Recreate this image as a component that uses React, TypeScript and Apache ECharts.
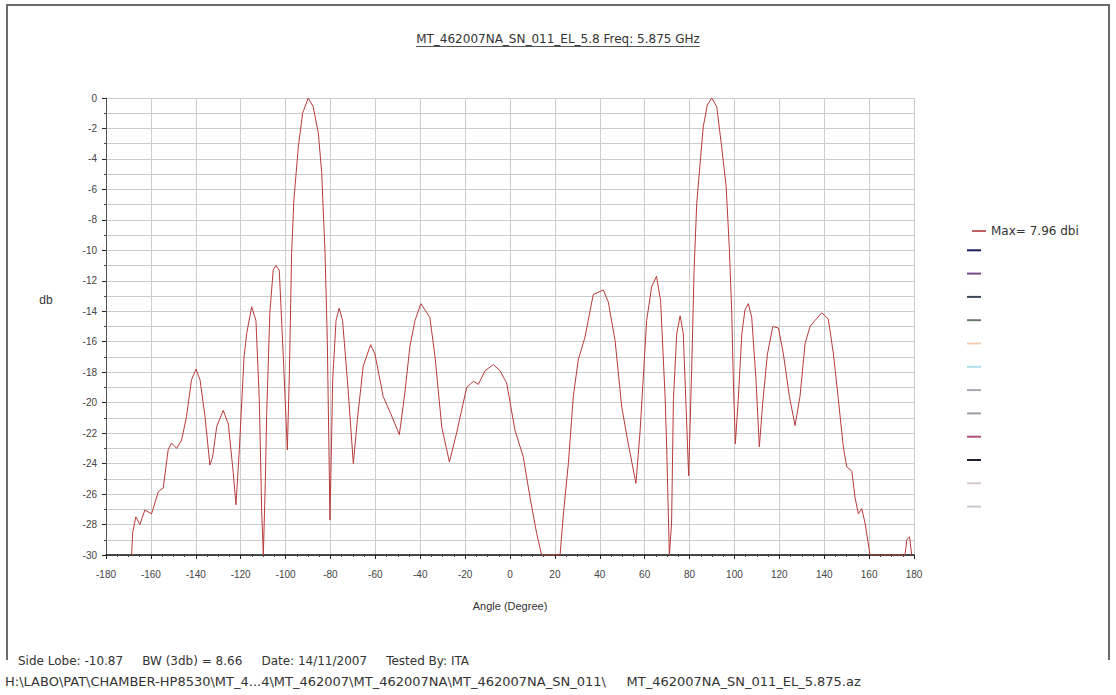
import React, { useEffect, useRef } from 'react';
import * as echarts from 'echarts';

const TITLE = 'MT_462007NA_SN_011_EL_5.8 Freq: 5.875 GHz';
const X_NAME = 'Angle (Degree)';
const Y_NAME = 'db';
const SERIES_NAME = 'Max= 7.96 dbi';
const INFO_LINE = 'Side Lobe: -10.87     BW (3db) = 8.66     Date: 14/11/2007     Tested By: ITA';
const PATH_LINE = 'H:\\LABO\\PAT\\CHAMBER-HP8530\\MT_4...4\\MT_462007\\MT_462007NA\\MT_462007NA_SN_011\\     MT_462007NA_SN_011_EL_5.875.az';

const angles = [
  -168.6, -168.1, -166.7, -164.9, -162.7, -159.7, -156.7, -154.5, -152.3, -150.8,
  -148.5, -146.3, -144.1, -141.9, -139.9, -138.1, -135.9, -133.7, -132.5, -130.7,
  -127.8, -125.5, -123.3, -122.1, -120.6, -118.5, -117.3, -115.1, -113.2, -111.7,
  -110.6, -109.9, -109.0, -108.4, -107.0, -105.5, -104.3, -102.8, -101.0, -99.2,
  -98.3, -97.3, -96.3, -94.3, -92.4, -89.9, -87.7, -85.4, -83.9, -82.4,
  -81.4, -80.2, -79.0, -77.5, -76.1, -74.6, -72.1, -69.8, -68.0, -65.4,
  -62.1, -60.2, -56.5, -53.2, -49.3, -46.8, -44.6, -42.3, -39.7, -35.7,
  -33.4, -30.4, -27.0, -23.8, -19.3, -16.3, -14.1, -11.1, -7.4, -4.5,
  -1.5, 2.2, 5.9, 8.9, 11.9, 14.1, 22.3, 23.8, 26.0, 28.2,
  30.4, 33.4, 37.1, 41.6, 43.8, 46.8, 49.8, 52.7, 56.1, 57.9,
  60.9, 63.1, 65.3, 67.1, 69.1, 69.8, 71.0, 72.0, 72.8, 74.3,
  75.8, 77.2, 78.5, 79.6, 81.0, 82.0, 83.2, 84.7, 86.1, 87.9,
  89.9, 92.1, 94.3, 96.3, 97.7, 98.8, 99.5, 100.4, 101.7, 103.3,
  104.7, 106.2, 107.7, 109.6, 111.1, 112.6, 114.7, 117.1, 119.6, 121.8,
  124.5, 127.0, 129.2, 131.5, 133.7, 135.9, 138.9, 141.8, 144.1, 146.3,
  148.5, 150.0, 152.3, 153.7, 155.2, 156.7, 158.2, 160.4, 176.0, 176.8,
  178.0, 179.0,
];

const gainDb = [
  -30, -28.5, -27.5, -28.0, -27.05, -27.3, -25.85, -25.6, -23.1, -22.65,
  -23.0, -22.45, -20.9, -18.5, -17.8, -18.5, -20.9, -24.1, -23.55, -21.6,
  -20.5, -21.4, -24.6, -26.7, -23.1, -17.0, -15.45, -13.7, -14.6, -19.8,
  -27.3, -30, -25.1, -20.7, -14.1, -11.3, -11.0, -11.3, -17.0, -23.1,
  -18.1, -10.2, -6.7, -3.2, -1.0, 0, -0.57, -2.3, -4.9, -10.2,
  -15.9, -27.7, -18.5, -14.6, -13.8, -14.6, -19.2, -24.0, -21.1, -17.6,
  -16.2, -16.8, -19.6, -20.7, -22.1, -19.3, -16.3, -14.6, -13.5, -14.4,
  -17.0, -21.6, -23.9, -22.0, -19.0, -18.6, -18.8, -17.9, -17.5, -17.9,
  -18.7, -21.8, -23.55, -26.2, -28.6, -30, -30, -27.3, -24.0, -19.6,
  -17.2, -15.7, -12.9, -12.6, -13.4, -15.9, -20.3, -22.7, -25.3, -22.0,
  -14.6, -12.4, -11.7, -13.3, -19.6, -22.9, -30, -27.9, -19.8, -15.45,
  -14.3, -15.45, -20.5, -24.8, -17.5, -11.4, -6.9, -4.3, -1.9, -0.46,
  0, -0.57, -3.2, -5.8, -9.8, -14.1, -18.5, -22.7, -19.8, -15.45,
  -13.9, -13.5, -14.4, -18.5, -22.9, -20.0, -16.8, -15.0, -15.1, -16.8,
  -19.6, -21.5, -19.6, -16.1, -15.0, -14.6, -14.1, -14.5, -16.8, -19.8,
  -22.9, -24.2, -24.5, -26.2, -27.3, -26.95, -27.9, -30, -30, -29.0,
  -28.8, -30,
];

const legendSwatchColors = [
  '#1c1c5c', '#7a4a8a', '#3c4858', '#6a7a6a', '#f0d0b0', '#b0e0f0',
  '#a8a8b0', '#9c9ca4', '#b0507a', '#202030', '#d8c8d0', '#c8c8d0',
];

const FONT = '"Liberation Sans", Arial, sans-serif';
const WIDE_FONT = '"DejaVu Sans", "Liberation Sans", sans-serif';

function measure(text: string, font: string): number {
  const c = document.createElement('canvas');
  const ctx = c.getContext('2d');
  if (!ctx) return text.length * 7;
  ctx.font = font;
  return ctx.measureText(text).width;
}

export default function App() {
  const ref = useRef<HTMLDivElement>(null);

  useEffect(() => {
    if (!ref.current) return;
    const chart = echarts.init(ref.current, null, { renderer: 'svg' });
    const W = 1116;
    const titleFont = `12px ${WIDE_FONT}`;
    const tw = measure(TITLE, titleFont);
    const titleCx = 558;

    const graphics: any[] = [
      {
        type: 'polyline',
        shape: { points: [[7, 660], [7, 5], [1109, 5], [1109, 660]] },
        style: { stroke: '#6a6a6a', lineWidth: 2, fill: 'none' },
        silent: true,
      },
      {
        type: 'text',
        x: titleCx,
        y: 39,
        style: {
          text: TITLE, fill: '#333', font: titleFont,
          textAlign: 'center', textVerticalAlign: 'middle',
        },
      },
      {
        type: 'line',
        shape: { x1: titleCx - tw / 2, y1: 46.5, x2: titleCx + tw / 2, y2: 46.5 },
        style: { stroke: '#555', lineWidth: 1 },
        silent: true,
      },
      {
        type: 'text',
        x: 46,
        y: 300,
        style: {
          text: Y_NAME, fill: '#333', font: `12px ${FONT}`,
          textAlign: 'center', textVerticalAlign: 'middle',
        },
      },
      {
        type: 'text',
        x: 18,
        y: 661,
        style: {
          text: INFO_LINE, fill: '#333', font: `12px ${WIDE_FONT}`,
          textAlign: 'left', textVerticalAlign: 'middle',
        },
      },
      {
        type: 'text',
        x: 5,
        y: 681,
        style: {
          text: PATH_LINE, fill: '#333', font: `13px ${WIDE_FONT}`,
          textAlign: 'left', textVerticalAlign: 'middle',
        },
      },
    ];

    legendSwatchColors.forEach((c, i) => {
      const y = 227 + 23.3 * (i + 1);
      graphics.push({
        type: 'line',
        shape: { x1: 967, y1: y, x2: 981, y2: y },
        style: { stroke: c, lineWidth: 2 },
        silent: true,
      });
    });

    const gridColor = '#cccccc';

    chart.setOption({
      animation: false,
      backgroundColor: '#ffffff',
      textStyle: { fontFamily: FONT },
      grid: { left: 106, right: W - 914, top: 98, bottom: 140, containLabel: false },
      legend: {
        show: true,
        data: [SERIES_NAME],
        orient: 'vertical',
        left: 967,
        top: 220,
        icon: 'rect',
        itemWidth: 14,
        itemHeight: 2,
        itemGap: 10,
        textStyle: { fontSize: 12, color: '#333', fontFamily: WIDE_FONT },
      },
      xAxis: {
        type: 'value',
        min: -180,
        max: 180,
        interval: 20,
        name: X_NAME,
        nameLocation: 'middle',
        nameGap: 45,
        nameTextStyle: { fontSize: 11, color: '#333', fontFamily: FONT },
        axisLine: { show: true, onZero: false, lineStyle: { color: '#111', width: 1.5 } },
        axisTick: { show: true, length: 4, lineStyle: { color: '#222' } },
        minorTick: { show: true, splitNumber: 4, length: 2, lineStyle: { color: '#444' } },
        axisLabel: { fontSize: 10, color: '#444', margin: 14, fontFamily: FONT },
        splitLine: { show: true, lineStyle: { color: gridColor, width: 1 } },
      },
      yAxis: {
        type: 'value',
        min: -30,
        max: 0,
        interval: 2,
        axisLine: { show: true, onZero: false, lineStyle: { color: '#555', width: 1 } },
        axisTick: { show: true, length: 4, lineStyle: { color: '#222' } },
        minorTick: { show: true, splitNumber: 2, length: 2, lineStyle: { color: '#444' } },
        axisLabel: { fontSize: 10, color: '#444', margin: 9, fontFamily: FONT },
        splitLine: { show: true, lineStyle: { color: gridColor, width: 1 } },
        minorSplitLine: { show: true, lineStyle: { color: gridColor, width: 1 } },
      },
      graphic: graphics,
      series: [
        {
          name: SERIES_NAME,
          type: 'line',
          data: angles.map((a, i) => [a, gainDb[i]]),
          showSymbol: false,
          symbol: 'none',
          clip: true,
          lineStyle: { color: '#b83a3a', width: 1 },
          itemStyle: { color: '#c06060' },
        },
      ],
    });

    return () => chart.dispose();
  }, []);

  return (
    <div
      ref={ref}
      style={{ position: 'fixed', left: 0, top: 0, width: 1116, height: 695, background: '#fff' }}
    />
  );
}
